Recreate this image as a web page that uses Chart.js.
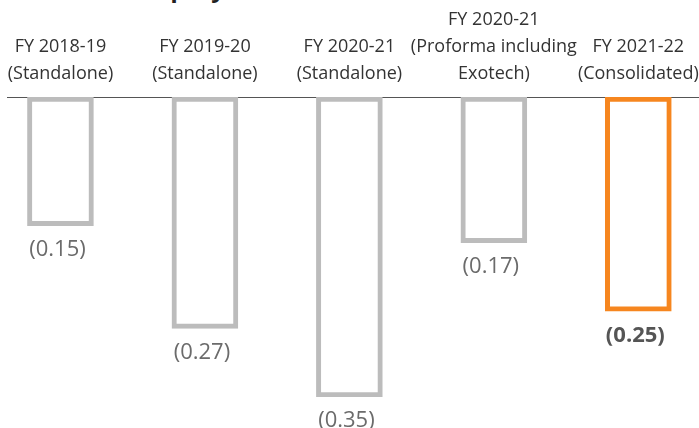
<!DOCTYPE html>
<html>
<head>
<meta charset="utf-8">
<script src="https://cdn.jsdelivr.net/npm/chart.js@4.4.1/dist/chart.umd.min.js"></script>
<style>
  html, body { margin: 0; padding: 0; background: #ffffff; }
  #wrap { position: relative; width: 699px; height: 428px; overflow: hidden; }
  #title { position: absolute; left: 35px; top: -24px; font: bold 24px "Open Sans", sans-serif; line-height: 24px; color: #222; white-space: nowrap; }
  #chart { position: absolute; left: 0; top: 0; }
</style>
</head>
<body>
<div id="wrap">
  <div id="title">Net Debt Equity</div>
  <canvas id="chart" width="699" height="428"></canvas>
</div>
<script>
const categories = [
  ['FY 2018-19', '(Standalone)'],
  ['FY 2019-20', '(Standalone)'],
  ['FY 2020-21', '(Standalone)'],
  ['FY 2020-21', '(Proforma including', 'Exotech)'],
  ['FY 2021-22', '(Consolidated)']
];
const values = [-0.15, -0.27, -0.35, -0.17, -0.25];
const valueLabels = ['(0.15)', '(0.27)', '(0.35)', '(0.17)', '(0.25)'];
const highlightIndex = 4;

const GRAY = '#BCBCBC';
const ORANGE = '#F6861F';

const valueLabelPlugin = {
  id: 'valueLabels',
  afterDatasetsDraw(chart) {
    const ctx = chart.ctx;
    const meta = chart.getDatasetMeta(0);
    ctx.save();
    ctx.textAlign = 'center';
    ctx.textBaseline = 'middle';
    meta.data.forEach((el, i) => {
      const hl = i === highlightIndex;
      ctx.font = (hl ? 'bold ' : '') + '22px "Open Sans", sans-serif';
      ctx.fillStyle = hl ? '#555555' : '#6b6b6b';
      ctx.fillText(valueLabels[i], el.x - 3, el.y + 24);
    });
    ctx.restore();
  }
};

new Chart(document.getElementById('chart'), {
  type: 'bar',
  data: {
    datasets: [{
      data: values.map((v, i) => ({ x: i, y: v })),
      backgroundColor: '#ffffff',
      borderColor: values.map((v, i) => i === highlightIndex ? ORANGE : GRAY),
      borderWidth: 5,
      borderSkipped: false,
      barThickness: 66
    }]
  },
  options: {
    responsive: false,
    animation: false,
    events: [],
    layout: { padding: { top: 0, bottom: 31, left: 7, right: 0 } },
    plugins: { legend: { display: false }, tooltip: { enabled: false } },
    scales: {
      x: {
        type: 'linear',
        position: 'top',
        bounds: 'data',
        offset: false,
        min: -0.37,
        max: 4.42,
        grid: { display: false, drawTicks: false, offset: false },
        border: { display: true, color: '#555555', width: 1 },
        afterBuildTicks: (scale) => { scale.ticks = categories.map((c, i) => ({ value: i })); },
        afterFit: (scale) => {
          scale.height = 97;
          scale.paddingLeft = 0;
          scale.paddingRight = 0;
        },
        ticks: {
          autoSkip: false,
          maxRotation: 0,
          padding: 10,
          color: '#333333',
          font: { family: '"Open Sans", sans-serif', size: 18, lineHeight: 1.5 },
          callback: (v) => categories[v] || ''
        }
      },
      y: {
        display: false,
        min: -0.35,
        max: 0
      }
    }
  },
  plugins: [valueLabelPlugin]
});
</script>
</body>
</html>
